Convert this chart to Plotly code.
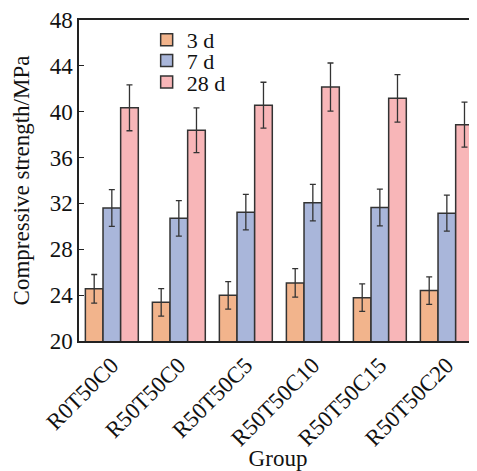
import plotly.graph_objects as go

groups = ["R0T50C0", "R50T50C0", "R50T50C5", "R50T50C10", "R50T50C15", "R50T50C20"]
series_names = ["3 d", "7 d", "28 d"]
vals_3d = [24.55, 23.37, 23.98, 25.07, 23.78, 24.40]
vals_7d = [31.60, 30.70, 31.24, 32.07, 31.64, 31.15]
vals_28d = [40.34, 38.38, 40.57, 42.15, 41.17, 38.87]
err_3d = [1.25, 1.20, 1.20, 1.25, 1.20, 1.20]
err_7d = [1.60, 1.55, 1.55, 1.60, 1.60, 1.57]
err_28d = [2.00, 1.95, 2.00, 2.10, 2.07, 1.96]
colors = ["#F2B48C", "#A9B6DA", "#F8B6B8"]
y_ticks = [20, 24, 28, 32, 36, 40, 44, 48]

font = "Liberation Serif"
FS = 23
legend_ids = ["legend2", "legend3", "legend4"]
legend_y = [0.938, 0.873, 0.806]

fig = go.Figure()
for name, v, e, c, lg in zip(series_names, [vals_3d, vals_7d, vals_28d],
                             [err_3d, err_7d, err_28d], colors, legend_ids):
    fig.add_trace(go.Bar(
        x=groups, y=v, name=name, legend=lg,
        marker=dict(color=c, line=dict(color="#333333", width=1.5)),
        error_y=dict(type="data", array=e, color="#333333", thickness=1.3, width=3),
    ))

leg_common = dict(x=0.17, xanchor="left", yanchor="middle",
                  bgcolor="rgba(0,0,0,0)", font=dict(size=FS - 1, family=font))

fig.update_layout(
    width=469, height=463,
    margin=dict(l=71, r=0, t=9, b=130),
    barmode="group", bargap=0.21, bargroupgap=0,
    plot_bgcolor="white", paper_bgcolor="white",
    font=dict(family=font, size=FS, color="#111111"),
    legend2=dict(y=legend_y[0], **leg_common),
    legend3=dict(y=legend_y[1], **leg_common),
    legend4=dict(y=legend_y[2], **leg_common),
    xaxis=dict(
        range=[-0.49, 5.45], tickangle=-45,
        showline=True, linecolor="#222222", linewidth=1.5, mirror=True,
        ticks="", title=dict(text="Group", font=dict(size=FS), standoff=4),
        tickfont=dict(size=FS), ticklabeloverflow="allow",
    ),
    yaxis=dict(
        range=[20, 48], tickvals=y_ticks,
        showline=True, linecolor="#222222", linewidth=1.5,
        ticks="inside", ticklen=5, tickcolor="#222222", tickwidth=1,
        showgrid=False, zeroline=False, ticklabeloverflow="allow",
        title=dict(text="Compressive strength/MPa", font=dict(size=FS), standoff=14),
        tickfont=dict(size=FS),
    ),
)
fig.write_html("out.html")
